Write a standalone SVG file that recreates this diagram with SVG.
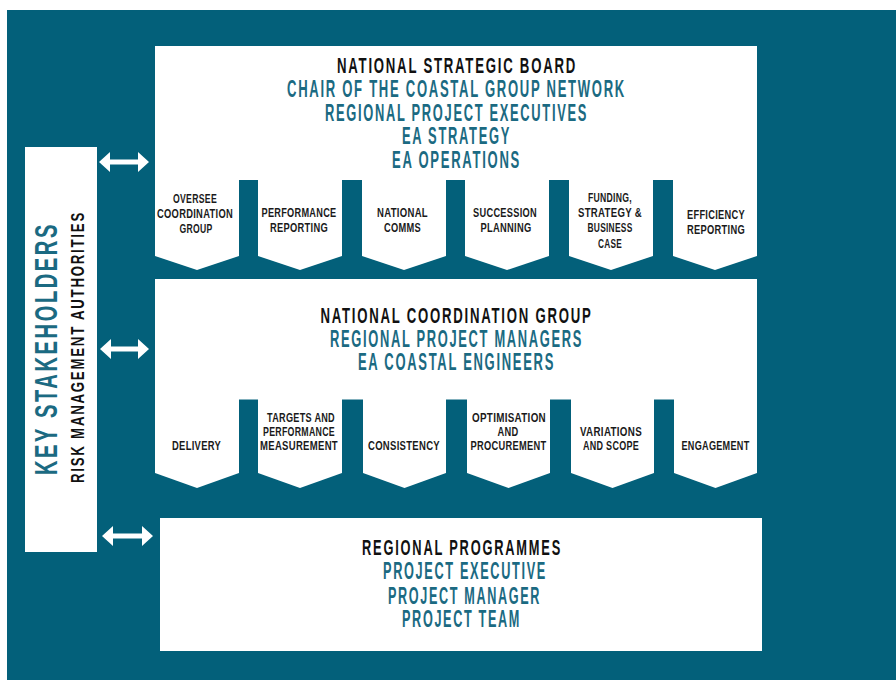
<svg xmlns="http://www.w3.org/2000/svg" width="896" height="680" viewBox="0 0 896 680">
<defs>
<style>
text{font-family:"Liberation Sans Narrow","Liberation Sans","DejaVu Sans",sans-serif;font-weight:bold;text-anchor:middle}
.bg{fill:#03607a}
.box{fill:#ffffff}
.h{font-size:22.5px;fill:#111111;letter-spacing:3px}
.t{font-size:23px;fill:#1b6a82;letter-spacing:3px}
.l{font-size:12.5px;fill:#1a1a1a;letter-spacing:0.4px}
.arrow{fill:#ffffff}
</style>
</defs>
<rect width="896" height="680" fill="#ffffff"/>
<rect class="bg" x="7" y="10" width="889" height="670"/>

<g id="key-stakeholders">
<rect class="box" x="25" y="147" width="72" height="405"/>
<text transform="translate(57,348.5) rotate(-90)" x="0" y="0" style="font-size:31.5px;fill:#1b6a82;letter-spacing:4px" textLength="253" lengthAdjust="spacingAndGlyphs">KEY STAKEHOLDERS</text>
<text transform="translate(83.5,347) rotate(-90)" x="0" y="0" style="font-size:18.5px;fill:#111111;letter-spacing:2.5px" textLength="272" lengthAdjust="spacingAndGlyphs">RISK MANAGEMENT AUTHORITIES</text>
</g>

<g id="connectors">
<polygon class="arrow" points="99,162 110,152 110,159.5 138,159.5 138,152 149,162 138,172 138,164.5 110,164.5 110,172"/>
<polygon class="arrow" points="100,349 111,339 111,346.5 138,346.5 138,339 149,349 138,359 138,351.5 111,351.5 111,359"/>
<polygon class="arrow" points="102,536 113,526 113,533.5 142,533.5 142,526 153,536 142,546 142,538.5 113,538.5 113,546"/>
</g>

<g id="national-strategic-board">
<rect class="box" x="155" y="46" width="602" height="134"/>
<polygon class="box" points="155,179.5 239,179.5 239,256 197,270 155,256"/>
<polygon class="box" points="258,179.5 342,179.5 342,256 300,270 258,256"/>
<polygon class="box" points="362,179.5 446,179.5 446,256 404,270 362,256"/>
<polygon class="box" points="465,179.5 549,179.5 549,256 507,270 465,256"/>
<polygon class="box" points="569,179.5 653,179.5 653,256 611,270 569,256"/>
<polygon class="box" points="673,179.5 757,179.5 757,256 715,270 673,256"/>
<text class="h" x="457" y="72.5" textLength="240" lengthAdjust="spacingAndGlyphs">NATIONAL STRATEGIC BOARD</text>
<text class="t" x="456.5" y="97" textLength="339" lengthAdjust="spacingAndGlyphs">CHAIR OF THE COASTAL GROUP NETWORK</text>
<text class="t" x="456.5" y="120.5" textLength="263" lengthAdjust="spacingAndGlyphs">REGIONAL PROJECT EXECUTIVES</text>
<text class="t" x="456.5" y="144" textLength="109" lengthAdjust="spacingAndGlyphs">EA STRATEGY</text>
<text class="t" x="456.5" y="168" textLength="129" lengthAdjust="spacingAndGlyphs">EA OPERATIONS</text>
</g>

<g id="nsb-tasks">
<text class="l" x="195" y="203.3" textLength="44" lengthAdjust="spacingAndGlyphs">OVERSEE</text>
<text class="l" x="195" y="218.3" textLength="76" lengthAdjust="spacingAndGlyphs">COORDINATION</text>
<text class="l" x="196" y="233.3" textLength="33" lengthAdjust="spacingAndGlyphs">GROUP</text>
<text class="l" x="299" y="217" textLength="75" lengthAdjust="spacingAndGlyphs">PERFORMANCE</text>
<text class="l" x="299" y="232" textLength="58" lengthAdjust="spacingAndGlyphs">REPORTING</text>
<text class="l" x="402.5" y="217" textLength="51" lengthAdjust="spacingAndGlyphs">NATIONAL</text>
<text class="l" x="402.5" y="232" textLength="37" lengthAdjust="spacingAndGlyphs">COMMS</text>
<text class="l" x="505" y="217" textLength="64" lengthAdjust="spacingAndGlyphs">SUCCESSION</text>
<text class="l" x="506" y="232" textLength="51" lengthAdjust="spacingAndGlyphs">PLANNING</text>
<text class="l" x="610" y="201.5" textLength="44" lengthAdjust="spacingAndGlyphs">FUNDING,</text>
<text class="l" x="610" y="217" textLength="64" lengthAdjust="spacingAndGlyphs">STRATEGY &amp;</text>
<text class="l" x="610" y="232" textLength="45" lengthAdjust="spacingAndGlyphs">BUSINESS</text>
<text class="l" x="610" y="247.5" textLength="24" lengthAdjust="spacingAndGlyphs">CASE</text>
<text class="l" x="716" y="218.5" textLength="58" lengthAdjust="spacingAndGlyphs">EFFICIENCY</text>
<text class="l" x="716" y="234" textLength="58" lengthAdjust="spacingAndGlyphs">REPORTING</text>
</g>

<g id="national-coordination-group">
<rect class="box" x="155" y="279" width="602" height="120.5"/>
<polygon class="box" points="155,399 239,399 239,473 197,488 155,473"/>
<polygon class="box" points="258,399 342,399 342,473 300,488 258,473"/>
<polygon class="box" points="363,399 446,399 446,473 404.5,488 363,473"/>
<polygon class="box" points="467,399 550,399 550,473 508.5,488 467,473"/>
<polygon class="box" points="571,399 654,399 654,473 612.5,488 571,473"/>
<polygon class="box" points="674,399 757,399 757,473 715.5,488 674,473"/>
<text class="h" x="456.5" y="323" textLength="272" lengthAdjust="spacingAndGlyphs">NATIONAL COORDINATION GROUP</text>
<text class="t" x="456.5" y="346.5" textLength="253" lengthAdjust="spacingAndGlyphs">REGIONAL PROJECT MANAGERS</text>
<text class="t" x="456.5" y="370" textLength="197" lengthAdjust="spacingAndGlyphs">EA COASTAL ENGINEERS</text>
</g>

<g id="ncg-tasks">
<text class="l" x="196.5" y="450" textLength="49" lengthAdjust="spacingAndGlyphs">DELIVERY</text>
<text class="l" x="301" y="422" textLength="68" lengthAdjust="spacingAndGlyphs">TARGETS AND</text>
<text class="l" x="299" y="436" textLength="72" lengthAdjust="spacingAndGlyphs">PERFORMANCE</text>
<text class="l" x="299" y="450" textLength="78" lengthAdjust="spacingAndGlyphs">MEASUREMENT</text>
<text class="l" x="404" y="450" textLength="72" lengthAdjust="spacingAndGlyphs">CONSISTENCY</text>
<text class="l" x="509" y="422" textLength="74" lengthAdjust="spacingAndGlyphs">OPTIMISATION</text>
<text class="l" x="508" y="436" textLength="21" lengthAdjust="spacingAndGlyphs">AND</text>
<text class="l" x="508.5" y="450" textLength="76" lengthAdjust="spacingAndGlyphs">PROCUREMENT</text>
<text class="l" x="611" y="436" textLength="62" lengthAdjust="spacingAndGlyphs">VARIATIONS</text>
<text class="l" x="611" y="450" textLength="56" lengthAdjust="spacingAndGlyphs">AND SCOPE</text>
<text class="l" x="715.5" y="450" textLength="68" lengthAdjust="spacingAndGlyphs">ENGAGEMENT</text>
</g>

<g id="regional-programmes">
<rect class="box" x="160" y="518" width="602" height="133"/>
<text class="h" x="462" y="555" style="font-size:21.5px" textLength="200" lengthAdjust="spacingAndGlyphs">REGIONAL PROGRAMMES</text>
<text class="t" x="465" y="579" textLength="164" lengthAdjust="spacingAndGlyphs">PROJECT EXECUTIVE</text>
<text class="t" x="464.5" y="603.5" textLength="153" lengthAdjust="spacingAndGlyphs">PROJECT MANAGER</text>
<text class="t" x="461.5" y="627" textLength="119" lengthAdjust="spacingAndGlyphs">PROJECT TEAM</text>
</g>
</svg>
